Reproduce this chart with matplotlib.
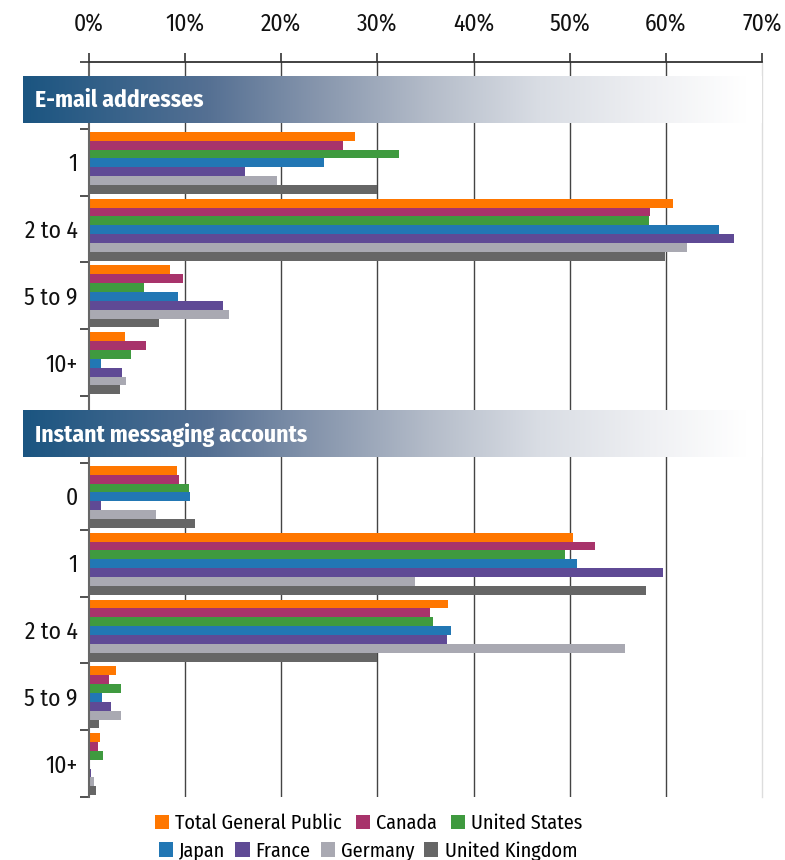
import numpy as np
import matplotlib.pyplot as plt
from matplotlib import font_manager
from matplotlib.colors import LinearSegmentedColormap
from matplotlib.patches import Patch

# pick a condensed sans if one is around, else plain DejaVu Sans a bit smaller
available = {f.name for f in font_manager.fontManager.ttflist}
FONT = 'DejaVu Sans'
for cand in ['Fira Sans Condensed', 'Roboto Condensed', 'Asap Condensed',
             'PT Sans Narrow', 'Liberation Sans Narrow', 'Archivo Narrow']:
    if cand in available:
        FONT = cand
        break
SCALE = 1.0 if FONT != 'DejaVu Sans' else 0.8
plt.rcParams['font.family'] = [FONT, 'DejaVu Sans']

# Data (percent of respondents)
SERIES = ['Total General Public', 'Canada', 'United States', 'Japan',
          'France', 'Germany', 'United Kingdom']
COLORS = ['#ff7700', '#a8336b', '#3f9a3f', '#2277b4',
          '#5f4a95', '#a9a9b2', '#666666']

EMAIL_TITLE = 'E-mail addresses'
EMAIL_CATS = ['1', '2 to 4', '5 to 9', '10+']
EMAIL_VALUES = [
    [27.7, 60.7, 8.4, 3.7],   # Total General Public
    [26.4, 58.4, 9.8, 5.9],   # Canada
    [32.2, 58.2, 5.7, 4.4],   # United States
    [24.4, 65.5, 9.3, 1.2],   # Japan
    [16.2, 67.1, 13.9, 3.4],  # France
    [19.6, 62.2, 14.6, 3.8],  # Germany
    [30.0, 59.9, 7.3, 3.2],   # United Kingdom
]

IM_TITLE = 'Instant messaging accounts'
IM_CATS = ['0', '1', '2 to 4', '5 to 9', '10+']
IM_VALUES = [
    [9.2, 50.3, 37.3, 2.8, 1.1],
    [9.4, 52.6, 35.5, 2.1, 0.9],
    [10.4, 49.5, 35.8, 3.3, 1.5],
    [10.5, 50.8, 37.7, 1.4, 0.0],
    [1.3, 59.7, 37.2, 2.3, 0.2],
    [7.0, 33.9, 55.8, 3.3, 0.5],
    [11.0, 57.9, 30.0, 1.0, 0.7],
]

X_TICKS = [0, 10, 20, 30, 40, 50, 60, 70]

BANNER_CMAP = LinearSegmentedColormap.from_list('banner', [
    (0.0, '#1b5581'), (0.25, '#557093'), (0.4, '#8796ad'),
    (0.55, '#b4bcc9'), (0.7, '#d9dde4'), (0.85, '#eff0f3'),
    (0.98, '#ffffff'), (1.0, '#ffffff')])

fig = plt.figure(figsize=(7.85, 8.6), dpi=100)
ax = fig.add_axes([89 / 785, 1 - 797 / 860, 673 / 785, 735 / 860])

sections = [(EMAIL_TITLE, EMAIL_CATS, EMAIL_VALUES),
            (IM_TITLE, IM_CATS, IM_VALUES)]

bar_h = 0.1326
margin = 0.045
slot = 0
label_pos = []
label_txt = []
gradient = np.linspace(0, 1, 256).reshape(1, -1)
for title, cats, values in sections:
    # banner sits in its own slot above the section
    top = slot - 0.5 + 0.21
    bot = slot - 0.5 + 0.91
    ax.imshow(gradient, extent=[-6.86, 70, bot, top], aspect='auto',
              cmap=BANNER_CMAP, zorder=3, clip_on=False, interpolation='bilinear')
    ax.text(-5.6, (top + bot) / 2 + 0.02, title, color='white', fontsize=17 * SCALE,
            fontweight='bold', va='center', ha='left', zorder=4, clip_on=False)
    slot += 1
    centers = slot + np.arange(len(cats))
    for j, (name, color) in enumerate(zip(SERIES, COLORS)):
        y = centers - 0.5 + margin + (j + 0.5) * bar_h
        ax.barh(y, values[j], height=bar_h, color=color, zorder=2)
    label_pos.extend(centers)
    label_txt.extend(cats)
    slot += len(cats)

ax.set_xlim(0, 70)
ax.set_ylim(slot - 0.5, -0.5)

ax.xaxis.tick_top()
ax.set_xticks(X_TICKS)
ax.set_xticklabels([f'{t}%' for t in X_TICKS])
ax.tick_params(axis='x', which='major', length=6.5, width=1.2, color='#333333',
               labelsize=17 * SCALE, pad=12, labelcolor='#111111')
for t in X_TICKS[1:-1]:
    ax.axvline(t, color='#444444', lw=1.0, zorder=1)

ax.set_yticks(label_pos)
ax.set_yticklabels(label_txt)
ax.set_yticks(np.arange(slot + 1) - 0.5, minor=True)
ax.tick_params(axis='y', which='major', length=0, labelsize=17 * SCALE, pad=8,
               labelcolor='#111111')
ax.tick_params(axis='y', which='minor', length=6.5, width=1.2, color='#333333')

ax.spines['bottom'].set_visible(False)
ax.spines['top'].set_color('#333333')
ax.spines['top'].set_linewidth(1.3)
ax.spines['left'].set_color('#666666')
ax.spines['left'].set_linewidth(1.5)
ax.spines['right'].set_color('#dddddd')
ax.spines['right'].set_linewidth(1.0)

handles = [Patch(facecolor=c, edgecolor='none') for c in COLORS]
leg_kw = dict(frameon=False, fontsize=14.5 * SCALE, handlelength=0.7, handleheight=0.7,
              handletextpad=0.3, borderpad=0, borderaxespad=0)
fig.legend(handles[:3], SERIES[:3], ncol=3, loc='center', columnspacing=0.7,
           bbox_to_anchor=(369 / 785, 1 - 823 / 860), **leg_kw)
fig.legend(handles[3:], SERIES[3:], ncol=4, loc='center', columnspacing=0.5,
           bbox_to_anchor=(368 / 785, 1 - 851 / 860), **leg_kw)

fig.savefig('out.png', dpi=100)
